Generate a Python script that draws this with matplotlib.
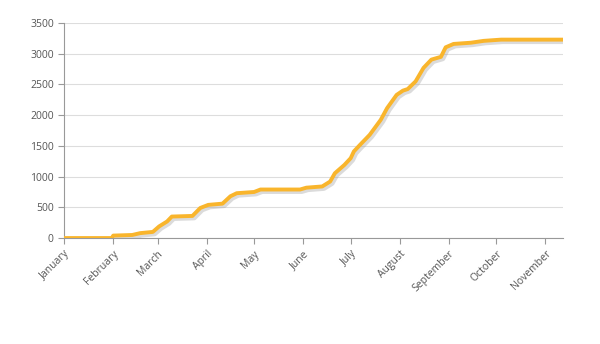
import matplotlib
matplotlib.use("Agg")
import matplotlib.pyplot as plt
import matplotlib.patheffects as pe
import numpy as np

# cumulative total through the year
dates = [
    "2013-01-01", "2013-01-31", "2013-02-01", "2013-02-13", "2013-02-18",
    "2013-02-26", "2013-03-02", "2013-03-07", "2013-03-10", "2013-03-23",
    "2013-03-28", "2013-04-02", "2013-04-11", "2013-04-16", "2013-04-20",
    "2013-05-01", "2013-05-05", "2013-05-30", "2013-06-03", "2013-06-13",
    "2013-06-18", "2013-06-21", "2013-06-27", "2013-07-01", "2013-07-03",
    "2013-07-07", "2013-07-13", "2013-07-20", "2013-07-24", "2013-07-30",
    "2013-08-03", "2013-08-06", "2013-08-11", "2013-08-16", "2013-08-21",
    "2013-08-27", "2013-08-30", "2013-09-04", "2013-09-15", "2013-09-23",
    "2013-10-04", "2013-11-13",
]
totals = [
    0, 0, 40, 50, 80,
    100, 190, 270, 350, 360,
    490, 540, 560, 680, 730,
    750, 790, 790, 820, 840,
    920, 1055, 1190, 1300, 1410,
    1520, 1680, 1925, 2115, 2330,
    2400, 2425, 2550, 2770, 2905,
    2950, 3105, 3160, 3180, 3210,
    3230, 3230,
]
month_ticks = [
    "2013-01-01", "2013-02-01", "2013-03-01", "2013-04-01", "2013-05-01",
    "2013-06-01", "2013-07-01", "2013-08-01", "2013-09-01", "2013-10-01",
    "2013-11-01",
]
month_labels = [
    "January", "February", "March", "April", "May", "June",
    "July", "August", "September", "October", "November",
]
y_ticks = [0, 500, 1000, 1500, 2000, 2500, 3000, 3500]

x = np.array(dates, dtype="datetime64[D]")
xt = np.array(month_ticks, dtype="datetime64[D]")

plt.rcParams["font.family"] = ["Open Sans", "DejaVu Sans"]

fig = plt.figure(figsize=(6, 3.44), dpi=100)
ax = fig.add_axes([0.107, 0.308, 0.831, 0.625])

# soft drop shadow under the line
ax.plot(
    x, totals, color="#F9B52C", linewidth=2.8,
    solid_joinstyle="round", solid_capstyle="round",
    path_effects=[
        pe.SimpleLineShadow(offset=(1.2, -1.2), shadow_color="#999999",
                            alpha=0.35, linewidth=4.0),
        pe.Normal(),
    ],
    zorder=3,
)

ax.set_xlim(np.datetime64("2013-01-01"), np.datetime64("2013-11-12"))
ax.set_ylim(0, 3500)
ax.set_xticks(xt)
ax.set_xticklabels(month_labels, rotation=45, ha="right", rotation_mode="anchor")
ax.set_yticks(y_ticks)

ax.grid(axis="y", color="#dddddd", linewidth=0.8)
ax.set_axisbelow(True)
for side in ("top", "right"):
    ax.spines[side].set_visible(False)
for side in ("left", "bottom"):
    ax.spines[side].set_color("#999999")
    ax.spines[side].set_linewidth(0.8)

ax.tick_params(axis="both", colors="#999999", length=4, width=0.8,
               labelsize=7.5, labelcolor="#555555")

fig.savefig("out.png", dpi=100)
